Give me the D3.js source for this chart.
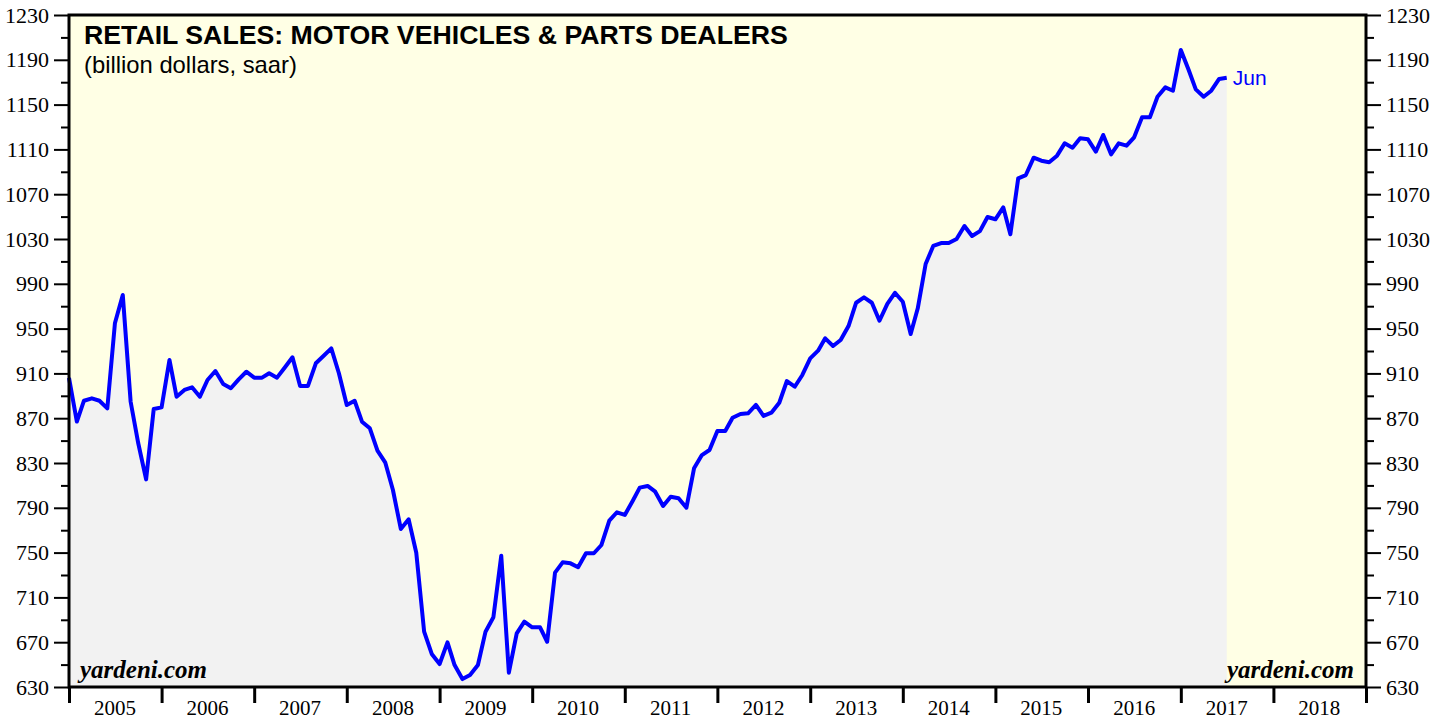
<!DOCTYPE html>
<html>
<head>
<meta charset="utf-8">
<script src="https://cdn.jsdelivr.net/npm/d3@7"></script>
<style>
  body { margin: 0; background: #fff; }
  svg { display: block; }
</style>
</head>
<body>
<svg id="chart"></svg>
<script>
// monthly values, Dec 2004 .. Jun 2017 (billion dollars, saar)
const firstMonth = "2004-12";
const sales = [
  906, 867, 885.6, 887.7, 885.6, 878.8, 954.7, 980, 884.7, 847.6, 815.4, 878.2,
  879.7, 922, 889.2, 895.2, 897.6, 889.2, 904.1, 912.1, 900.5, 896.7, 904.7, 911.5,
  906.2, 906.2, 910.1, 906.2, 915.1, 924.4, 898.8, 898.8, 919, 925.5, 932.4, 910.1,
  881.8, 885.6, 866.9, 861, 841, 830.3, 805.9, 771.1, 779.7, 749.9, 679.4, 659.5,
  650.5, 669.9, 649.6, 637.1, 640.7, 649.6, 679.4, 692.2, 747.2, 642.8, 677.9, 688.3,
  683.3, 683.3, 670.4, 732.1, 741.3, 740.4, 736.9, 749.4, 749.4, 756.8, 778.5, 786,
  783.6, 796.1, 808, 809.5, 804.4, 791.6, 799.9, 798.5, 790.1, 825.3, 837.1, 841.6,
  858.6, 858.6, 870.4, 873.8, 874.4, 881.8, 872, 874.9, 883.8, 903.2, 898.1, 908.6,
  923.4, 930.3, 941.3, 934.5, 939.8, 952.3, 973.1, 977.9, 973.1, 957, 972, 982,
  974, 945.2, 968.1, 1007.7, 1023.8, 1026.4, 1026.4, 1030, 1041.6, 1032.7, 1037, 1049.6,
  1047.6, 1058.3, 1034.2, 1084.2, 1087.1, 1102.6, 1099.9, 1098.5, 1104.4, 1115.4, 1111.5, 1119.9,
  1119, 1108, 1122.9, 1105.6, 1115.4, 1113.3, 1120.8, 1138.6, 1138.6, 1157, 1165.4, 1162.4,
  1198.8, 1180.9, 1163.6, 1157, 1162.4, 1172.9, 1174
];
const years = [2005, 2006, 2007, 2008, 2009, 2010, 2011, 2012, 2013, 2014, 2015, 2016, 2017, 2018];
const yTicks = [630, 670, 710, 750, 790, 830, 870, 910, 950, 990, 1030, 1070, 1110, 1150, 1190, 1230];
const lastLabel = "Jun";

const WIDTH = 1446, HEIGHT = 721;
const MARGIN = { top: 15, right: 80, bottom: 34, left: 69 };
const INNER_WIDTH = WIDTH - MARGIN.left - MARGIN.right;
const INNER_HEIGHT = HEIGHT - MARGIN.top - MARGIN.bottom;

const parseMonth = d3.timeParse("%Y-%m");
const start = parseMonth(firstMonth);
// each month is plotted at its end (= start of next month)
const data = sales.map((v, i) => ({ date: d3.timeMonth.offset(start, i + 1), value: v }));

const svg = d3.select("#chart").attr("width", WIDTH).attr("height", HEIGHT);
const g = svg.append("g").attr("transform", "translate(" + MARGIN.left + "," + MARGIN.top + ")");

const xScale = d3.scaleTime()
  .domain([new Date(years[0], 0, 1), new Date(years[years.length - 1] + 1, 0, 1)])
  .range([0, INNER_WIDTH]);
const yScale = d3.scaleLinear()
  .domain([yTicks[0], yTicks[yTicks.length - 1]])
  .range([INNER_HEIGHT, 0]);

// plot background
g.append("rect")
  .attr("width", INNER_WIDTH).attr("height", INNER_HEIGHT)
  .attr("fill", "#ffffe5");

// grey area under line
const area = d3.area()
  .x(d => xScale(d.date))
  .y0(INNER_HEIGHT)
  .y1(d => yScale(d.value));
g.append("path").datum(data)
  .attr("d", area)
  .attr("fill", "#f2f2f2");

// line
const line = d3.line()
  .x(d => xScale(d.date))
  .y(d => yScale(d.value));
g.append("path").datum(data)
  .attr("d", line)
  .attr("fill", "none")
  .attr("stroke", "#0000ff")
  .attr("stroke-width", 4)
  .attr("stroke-linejoin", "round");

// y axes: majors labelled, minors halfway
const minorTicks = yTicks.slice(0, -1).map((t, i) => (t + yTicks[i + 1]) / 2);
const fmt = d3.format("d");

function styleY(sel) {
  sel.select(".domain").remove();
  sel.selectAll(".tick line").attr("stroke", "#000").attr("stroke-width", 2);
  sel.selectAll(".tick text")
    .attr("font-family", "'Liberation Serif', 'Times New Roman', serif")
    .attr("font-size", "22px")
    .attr("fill", "#000");
}

g.append("g").call(d3.axisLeft(yScale).tickValues(minorTicks).tickSize(8).tickFormat(""))
  .call(styleY);
g.append("g").call(d3.axisLeft(yScale).tickValues(yTicks).tickSize(15).tickPadding(5).tickFormat(fmt))
  .call(styleY);
g.append("g").attr("transform", "translate(" + INNER_WIDTH + ",0)")
  .call(d3.axisRight(yScale).tickValues(minorTicks).tickSize(8).tickFormat(""))
  .call(styleY);
g.append("g").attr("transform", "translate(" + INNER_WIDTH + ",0)")
  .call(d3.axisRight(yScale).tickValues(yTicks).tickSize(15).tickPadding(5).tickFormat(fmt))
  .call(styleY);

// x axis: ticks at year boundaries, labels centred in each year
const yearStarts = years.map(y => new Date(y, 0, 1)).concat([new Date(years[years.length - 1] + 1, 0, 1)]);
const xAxis = g.append("g").attr("transform", "translate(0," + INNER_HEIGHT + ")")
  .call(d3.axisBottom(xScale).tickValues(yearStarts).tickSize(16).tickFormat(""));
xAxis.select(".domain").remove();
xAxis.selectAll(".tick line").attr("stroke", "#000").attr("stroke-width", 3);

g.append("g").selectAll("text")
  .data(years)
  .enter()
  .append("text")
  .attr("x", d => xScale(new Date(d, 6, 1)))
  .attr("y", INNER_HEIGHT + 28)
  .attr("text-anchor", "middle")
  .attr("font-family", "'Liberation Serif', 'Times New Roman', serif")
  .attr("font-size", "21px")
  .attr("fill", "#000")
  .text(d => d);

// frame
g.append("rect")
  .attr("width", INNER_WIDTH).attr("height", INNER_HEIGHT)
  .attr("fill", "none")
  .attr("stroke", "#000")
  .attr("stroke-width", 3);

// titles
g.append("text")
  .attr("x", 15).attr("y", 29)
  .attr("font-family", "'Liberation Sans', Arial, sans-serif")
  .attr("font-weight", "bold")
  .attr("font-size", "26.7px")
  .attr("fill", "#000")
  .text("RETAIL SALES: MOTOR VEHICLES & PARTS DEALERS");
g.append("text")
  .attr("x", 15).attr("y", 58)
  .attr("font-family", "'Liberation Sans', Arial, sans-serif")
  .attr("font-size", "23.8px")
  .attr("fill", "#000")
  .text("(billion dollars, saar)");

// last month label
const last = data[data.length - 1];
g.append("text")
  .attr("x", xScale(last.date) + 6)
  .attr("y", yScale(last.value) + 7)
  .attr("font-family", "'Liberation Sans', Arial, sans-serif")
  .attr("font-size", "21px")
  .attr("fill", "#0000ff")
  .text(lastLabel);

// source credits
const credit = { family: "'Liberation Serif', 'Times New Roman', serif", size: "25px" };
g.append("text")
  .attr("x", 11).attr("y", INNER_HEIGHT - 9)
  .attr("font-family", credit.family).attr("font-size", credit.size)
  .attr("font-weight", "bold").attr("font-style", "italic")
  .text("yardeni.com");
g.append("text")
  .attr("x", INNER_WIDTH - 12).attr("y", INNER_HEIGHT - 9)
  .attr("text-anchor", "end")
  .attr("font-family", credit.family).attr("font-size", credit.size)
  .attr("font-weight", "bold").attr("font-style", "italic")
  .text("yardeni.com");
</script>
</body>
</html>
